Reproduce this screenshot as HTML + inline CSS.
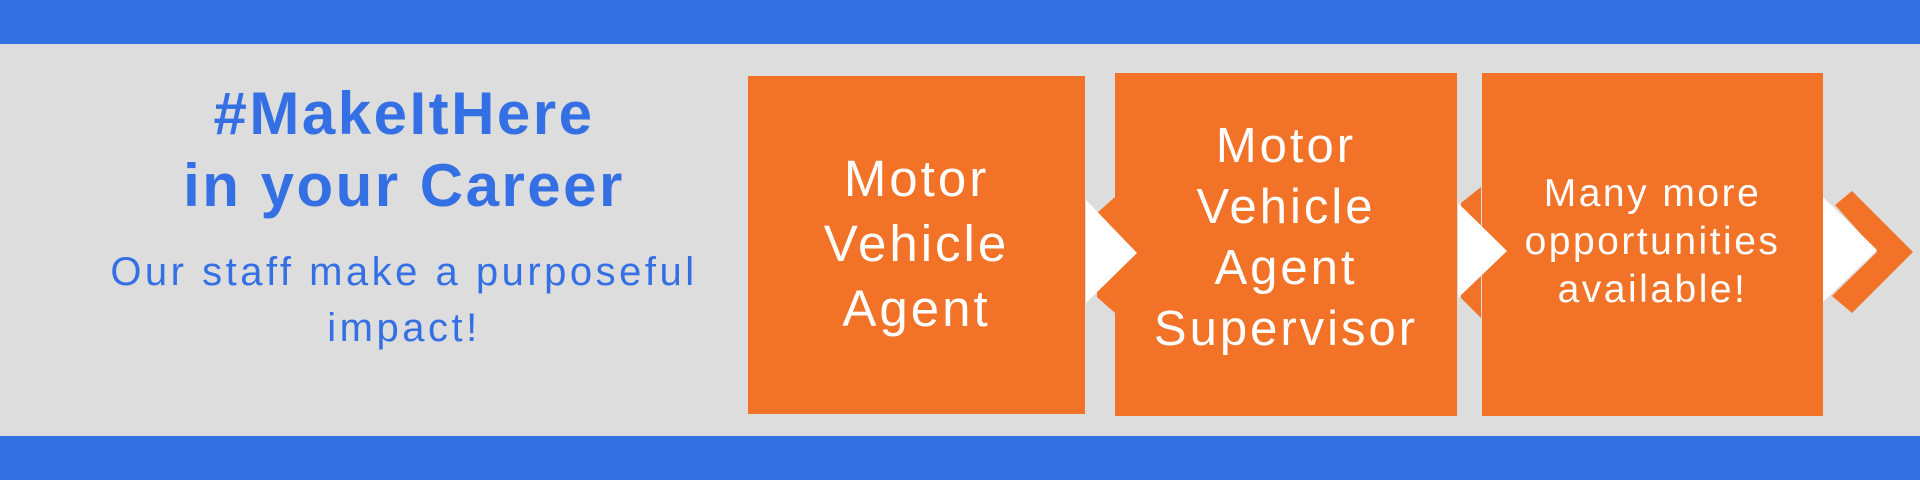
<!DOCTYPE html>
<html><head><meta charset="utf-8"><style>
html,body{margin:0;padding:0}
body{width:1920px;height:480px;background:#dddddd;position:relative;overflow:hidden;font-family:"Liberation Sans",sans-serif}
.band{position:absolute;left:0;width:1920px;background:#3470e4}
.t{position:absolute;text-align:center;white-space:nowrap}
.box{position:absolute;background:#f27227}
.bt{position:absolute;left:0;right:0;text-align:center;color:#fff}
</style></head><body>
<div class="band" style="top:0;height:44px"></div>
<div class="band" style="top:436px;height:44px"></div>

<div class="t" style="left:54px;width:700px;top:78px;font-size:60px;line-height:72px;font-weight:bold;color:#3470e4;letter-spacing:2.5px">#MakeItHere<br>in your Career</div>
<div class="t" style="left:4px;width:800px;top:244px;font-size:40px;line-height:56px;color:#3470e4;letter-spacing:3.5px">Our staff make a purposeful<br>impact!</div>

<svg width="1920" height="480" style="position:absolute;left:0;top:0">
<polygon points="1115,197 1097,213 1097,297 1115,313" fill="#f27227"/>
<polygon points="1481,187 1461,203 1461,298 1481,318" fill="#f27227"/>
<polygon points="1852,191 1913,252 1852,313 1832,296 1877,252 1835,205" fill="#f27227"/>
</svg>

<div class="box" style="left:748px;top:76px;width:337px;height:338px">
<div class="bt" style="top:70px;font-size:51px;line-height:65px;letter-spacing:3px">Motor<br>Vehicle<br>Agent</div></div>
<div class="box" style="left:1115px;top:73px;width:342px;height:343px">
<div class="bt" style="top:43px;font-size:49px;line-height:61px;letter-spacing:3px">Motor<br>Vehicle<br>Agent<br>Supervisor</div></div>
<div class="box" style="left:1482px;top:73px;width:341px;height:343px">
<div class="bt" style="top:97px;font-size:39px;line-height:48px;letter-spacing:2.5px">Many more<br>opportunities<br>available!</div></div>

<svg width="1920" height="480" style="position:absolute;left:0;top:0">
<polygon points="1086,200 1137,253 1086,303" fill="#fff"/>
<polygon points="1458,203 1507,251 1458,298" fill="#fff"/>
<polygon points="1823,197 1877,250 1823,302" fill="#fff"/>
</svg>
</body></html>
